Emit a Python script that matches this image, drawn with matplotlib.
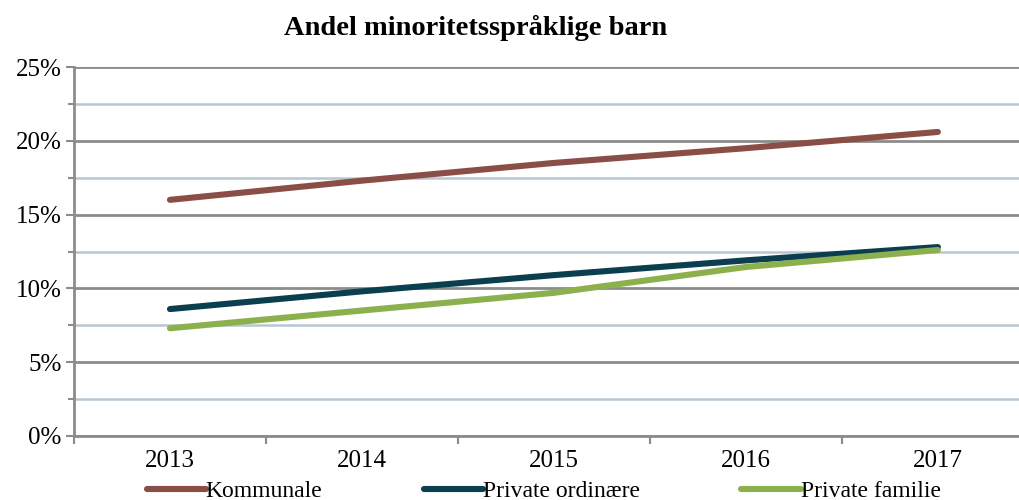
"""Andel minoritetsspråklige barn, line chart."""
import matplotlib

matplotlib.use("Agg")
import matplotlib.pyplot as plt
from matplotlib.ticker import FuncFormatter, MultipleLocator
import numpy as np

years = ["2013", "2014", "2015", "2016", "2017"]
kommunale = [16.0, 17.3, 18.5, 19.5, 20.6]
private_ordinaere = [8.6, 9.8, 10.9, 11.9, 12.8]
private_familie = [7.3, 8.5, 9.7, 11.45, 12.6]

series = [
    ("Kommunale", kommunale, "#8B4E46"),
    ("Private ordinære", private_ordinaere, "#0B3F4F"),
    ("Private familie", private_familie, "#8DB04F"),
]

plt.rcParams["font.family"] = ["Liberation Serif", "DejaVu Serif"]

fig = plt.figure(figsize=(10.19, 5.0), dpi=100)
ax = fig.add_axes([0.0726, 0.128, 0.942, 0.738])

x = np.arange(len(years))
handles = []
for name, vals, color in series:
    (h,) = ax.plot(x, vals, color=color, lw=4.4, solid_capstyle="round",
                   label=name, zorder=3)
    handles.append(h)

ax.set_xlim(-0.5, len(years) - 0.5)
ax.set_ylim(0, 25)
ax.yaxis.set_major_locator(MultipleLocator(5))
ax.yaxis.set_minor_locator(MultipleLocator(2.5))
ax.yaxis.set_major_formatter(FuncFormatter(lambda v, _: f"{v:.0f}%"))
ax.grid(axis="y", which="major", color="#8C8C8C", lw=2.0, zorder=1)
ax.grid(axis="y", which="minor", color="#B8C6D1", lw=1.8, zorder=1)

ax.set_xticks(x)
ax.set_xticklabels(years)
ax.set_xticks(np.arange(len(years) + 1) - 0.5, minor=True)
ax.tick_params(axis="x", which="major", length=0, labelsize=18, pad=10)
ax.tick_params(axis="x", which="minor", length=6, width=1.5, color="#8C8C8C",
               direction="out")
ax.tick_params(axis="y", which="major", length=6, width=1.5, color="#8C8C8C",
               labelsize=18, pad=3)
ax.tick_params(axis="y", which="minor", length=4, width=1.5, color="#8C8C8C",
               direction="out")

for side in ("top", "right"):
    ax.spines[side].set_visible(False)
for side in ("left", "bottom"):
    ax.spines[side].set_color("#8C8C8C")
    ax.spines[side].set_linewidth(2.0)

fig.text(0.467, 0.944, "Andel minoritetsspråklige barn", ha="center",
         va="center", fontsize=20.5, fontweight="bold")

fig.legend(handles=handles, loc="lower left", bbox_to_anchor=(0.130, -0.032),
           ncol=3, frameon=False, fontsize=17, handlelength=2.5,
           handletextpad=0.0, columnspacing=4.3, borderpad=0.1)

fig.savefig("out.png", dpi=100)
